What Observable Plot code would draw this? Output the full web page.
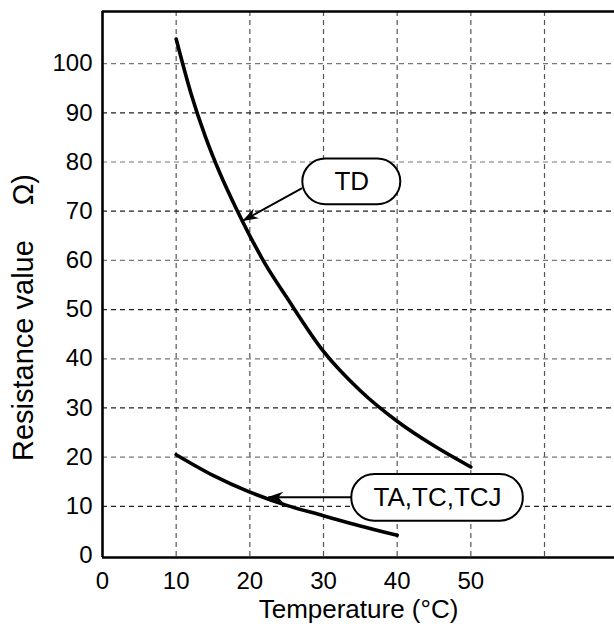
<!DOCTYPE html>
<html>
<head>
<meta charset="utf-8">
<script src="https://cdn.jsdelivr.net/npm/d3@7"></script>
<script src="https://cdn.jsdelivr.net/npm/@observablehq/plot@0.6"></script>
<style>
  html, body { margin: 0; padding: 0; background: #fff; }
  #chart svg { display: block; }
</style>
</head>
<body>
<div id="chart"></div>
<script>
// Temperature (°C) vs resistance (Ω)
const tdTemp = [10, 12, 14, 16, 18, 20, 22, 25, 30, 35, 40, 45, 50];
const tdRes  = [105, 94, 85, 77.5, 71, 65, 59.5, 52.5, 41.5, 33.5, 27.3, 22.3, 18];
const taTemp = [10, 15, 20, 25, 30, 35, 40];
const taRes  = [20.5, 16.3, 12.9, 10.2, 8.1, 6.0, 4.1];

const xTicks = [0, 10, 20, 30, 40, 50];
const yTicks = [0, 10, 20, 30, 40, 50, 60, 70, 80, 90, 100];
const xGrid = [10, 20, 30, 40, 50, 60];
const yGridDark = [10, 30, 50, 70, 90];
const yGridLight = [20, 40, 60, 80, 100];

// callout labels: text, label center, arrow start, arrow tip (data units)
const labelText = ["TD", "TA,TC,TCJ"];
const labelX = [33.84, 45.48];
const labelY = [75.97, 11.72];
const labelHalfW = [6.65, 11.64];
const labelHalfH = [4.65, 4.75];
const arrowX1 = [27.1, 33.8];
const arrowY1 = [74.7, 11.85];
const arrowX2 = [19.1, 22.5];
const arrowY2 = [68.1, 11.85];

const xTitle = "Temperature (°C)";
const yTitle = "Resistance value\u2003\u2009Ω)";

const td = tdTemp.map((t, i) => ({t, r: tdRes[i]}));
const ta = taTemp.map((t, i) => ({t, r: taRes[i]}));
const labels = labelText.map((s, i) => ({
  s, x: labelX[i], y: labelY[i],
  x1: labelX[i] - labelHalfW[i], x2: labelX[i] + labelHalfW[i],
  y1: labelY[i] - labelHalfH[i], y2: labelY[i] + labelHalfH[i],
  ax1: arrowX1[i], ay1: arrowY1[i], ax2: arrowX2[i], ay2: arrowY2[i]
}));

function stealth(color, context) {
  const m = d3.create("svg:marker")
    .attr("viewBox", "-16 -6 18 12")
    .attr("markerWidth", 18)
    .attr("markerHeight", 12)
    .attr("markerUnits", "userSpaceOnUse")
    .attr("orient", "auto")
    .attr("refX", 0)
    .attr("refY", 0);
  m.append("path")
    .attr("d", "M1,0 L-15,-5.5 L-10,0 L-15,5.5 Z")
    .attr("fill", "#000")
    .attr("stroke", "none");
  return m.node();
}

const font = "'Liberation Sans', Arial, Helvetica, sans-serif";

const chart = Plot.plot({
  width: 614,
  height: 639,
  marginLeft: 102,
  marginTop: 11,
  marginRight: 0,
  marginBottom: 82,
  style: {fontFamily: font, fontSize: "24px", color: "#000", background: "#fff"},
  x: {domain: [0, 69.5], ticks: xTicks, tickSize: 0, tickPadding: 14, label: null},
  y: {domain: [-0.4, 110.6], ticks: yTicks, tickSize: 0, tickPadding: 10, label: null},
  marks: [
    Plot.ruleX(xGrid, {stroke: "#555", strokeWidth: 1.2, strokeDasharray: "5,4"}),
    Plot.ruleY(yGridLight, {stroke: "#777", strokeWidth: 1.2, strokeDasharray: "5,4"}),
    Plot.ruleY(yGridDark, {stroke: "#222", strokeWidth: 1.2, strokeDasharray: "5,4"}),
    Plot.line(td, {x: "t", y: "r", stroke: "#000", strokeWidth: 3.6, curve: "monotone-x"}),
    Plot.line(ta, {x: "t", y: "r", stroke: "#000", strokeWidth: 3.6, curve: "monotone-x"}),
    Plot.link(labels, {x1: "ax1", y1: "ay1", x2: "ax2", y2: "ay2", stroke: "#000", strokeWidth: 1.8, markerEnd: stealth}),
    Plot.rect(labels, {x1: "x1", x2: "x2", y1: "y1", y2: "y2", rx: 23, fill: "#fff", stroke: "#000", strokeWidth: 2}),
    Plot.text(labels, {x: "x", y: "y", text: "s", fontSize: 26, fill: "#000"}),
    Plot.ruleX([0], {stroke: "#000", strokeWidth: 2.6}),
    Plot.ruleY([110.6, -0.4], {stroke: "#000", strokeWidth: 2.6}),
    Plot.text([xTitle], {frameAnchor: "bottom", lineAnchor: "middle", textAnchor: "middle", dy: 52, fontSize: 26, fill: "#000"}),
    Plot.text([yTitle], {frameAnchor: "left", textAnchor: "middle", lineAnchor: "middle", rotate: -90, dx: -79, dy: 33, fontSize: 29, fill: "#000"})
  ]
});
document.getElementById("chart").appendChild(chart);
</script>
</body>
</html>
